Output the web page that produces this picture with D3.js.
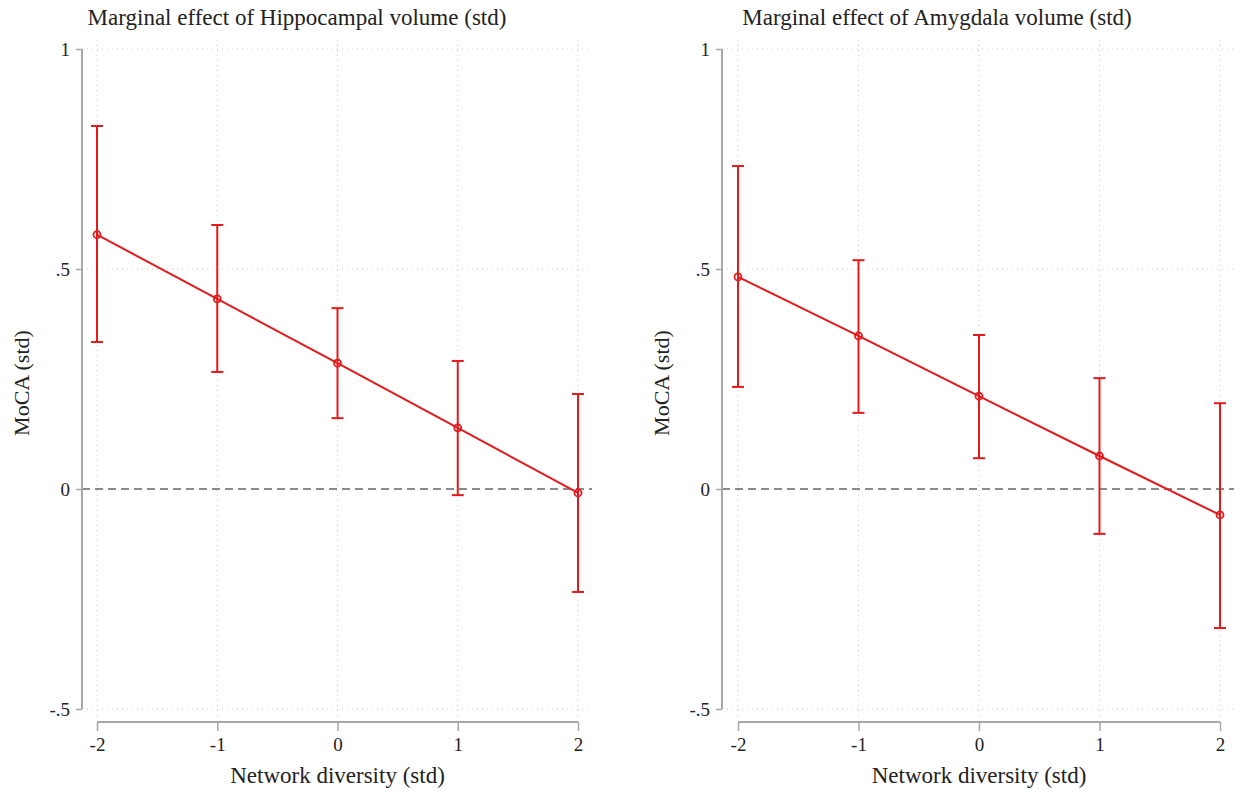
<!DOCTYPE html>
<html>
<head>
<meta charset="utf-8">
<script src="https://cdn.jsdelivr.net/npm/d3@7"></script>
<style>
  body { margin: 0; background: #fff; }
  text { font-family: "Liberation Serif", "DejaVu Serif", serif; fill: #222; }
</style>
</head>
<body>
<div id="chart"></div>
<script>
// x values (network diversity, std)
var xVals = [-2, -1, 0, 1, 2];
var xTicks = [-2, -1, 0, 1, 2];
var yTicks = [-0.5, 0, 0.5, 1];

// Hippocampal volume marginal effects
var hipEst = [0.578, 0.432, 0.286, 0.139, -0.009];
var hipLo  = [0.334, 0.266, 0.161, -0.014, -0.234];
var hipHi  = [0.825, 0.600, 0.411, 0.291, 0.216];

// Amygdala volume marginal effects
var amyEst = [0.482, 0.348, 0.211, 0.075, -0.059];
var amyLo  = [0.232, 0.173, 0.070, -0.102, -0.316];
var amyHi  = [0.734, 0.520, 0.350, 0.252, 0.195];

var RED = "#e41a1c";

var svg = d3.select("#chart").append("svg")
    .attr("width", 1245)
    .attr("height", 796);

function yFmt(d) {
    if (d == 0) return "0";
    if (d == 1) return "1";
    return d < 0 ? "-." + String(Math.abs(d)).split(".")[1] : "." + String(d).split(".")[1];
}

function drawPanel(left, xStart, xEnd, title, est, lo, hi) {
    var x = d3.scaleLinear().domain([-2, 2]).range([xStart, xEnd]);
    var y = d3.scaleLinear().domain([-0.5, 1]).range([709, 49]);
    var g = svg.append("g");
    var gridRight = xEnd + 14;

    // grid
    g.selectAll(".hgrid").data(yTicks.filter(function(d) { return d != 0; }))
        .enter().append("line")
        .attr("x1", left).attr("x2", gridRight)
        .attr("y1", function(d) { return y(d); })
        .attr("y2", function(d) { return y(d); })
        .attr("stroke", "#c8c8c8").attr("stroke-width", 1)
        .attr("stroke-dasharray", "1,4");

    g.selectAll(".vgrid").data(xTicks)
        .enter().append("line")
        .attr("x1", function(d) { return x(d); })
        .attr("x2", function(d) { return x(d); })
        .attr("y1", 40).attr("y2", 716)
        .attr("stroke", "#c8c8c8").attr("stroke-width", 1)
        .attr("stroke-dasharray", "1,4");

    // zero reference line
    g.append("line")
        .attr("x1", left).attr("x2", gridRight)
        .attr("y1", y(0)).attr("y2", y(0))
        .attr("stroke", "#8a8a8a").attr("stroke-width", 2)
        .attr("stroke-dasharray", "8,5");

    // y axis
    var yAxis = d3.axisLeft(y).tickValues(yTicks).tickFormat(yFmt).tickSize(6).tickPadding(6);
    var ya = g.append("g").attr("transform", "translate(" + left + ",0)").call(yAxis);
    ya.select(".domain").attr("stroke", "#a8a8a8").attr("stroke-width", 2)
        .attr("d", "M0," + y(1) + "V" + y(-0.5));
    ya.selectAll(".tick line").attr("stroke", "#a8a8a8").attr("stroke-width", 1.5);
    ya.selectAll(".tick text").style("font-size", "19px").style("fill", "#222");

    // x axis
    var xAxis = d3.axisBottom(x).tickValues(xTicks).tickFormat(d3.format("d")).tickSize(9).tickPadding(7);
    var xa = g.append("g").attr("transform", "translate(0,722)").call(xAxis);
    xa.select(".domain").attr("stroke", "#a8a8a8").attr("stroke-width", 2)
        .attr("d", "M" + xStart + ",0H" + xEnd);
    xa.selectAll(".tick line").attr("stroke", "#a8a8a8").attr("stroke-width", 1.5);
    xa.selectAll(".tick text").style("font-size", "19px").style("fill", "#222")
        .text(function(d) { return d < 0 ? "-" + Math.abs(d) : d; });

    // titles
    g.append("text")
        .attr("x", left + 215).attr("y", 25)
        .attr("text-anchor", "middle")
        .style("font-size", "23px")
        .text(title);

    g.append("text")
        .attr("x", (xStart + xEnd) / 2).attr("y", 783)
        .attr("text-anchor", "middle")
        .style("font-size", "23px")
        .text("Network diversity (std)");

    g.append("text")
        .attr("transform", "translate(" + (left - 53) + "," + (y(0.25) + 4) + ") rotate(-90)")
        .attr("text-anchor", "middle")
        .style("font-size", "22px")
        .text("MoCA (std)");

    var rows = xVals.map(function(v, i) {
        return {x: v, est: est[i], lo: lo[i], hi: hi[i]};
    });

    // error bars
    var bars = g.selectAll(".ci").data(rows).enter().append("g");
    bars.append("line")
        .attr("x1", function(d) { return x(d.x); })
        .attr("x2", function(d) { return x(d.x); })
        .attr("y1", function(d) { return y(d.lo); })
        .attr("y2", function(d) { return y(d.hi); })
        .attr("stroke", RED).attr("stroke-width", 2);
    bars.append("line")
        .attr("x1", function(d) { return x(d.x) - 6; })
        .attr("x2", function(d) { return x(d.x) + 6; })
        .attr("y1", function(d) { return y(d.lo); })
        .attr("y2", function(d) { return y(d.lo); })
        .attr("stroke", RED).attr("stroke-width", 2);
    bars.append("line")
        .attr("x1", function(d) { return x(d.x) - 6; })
        .attr("x2", function(d) { return x(d.x) + 6; })
        .attr("y1", function(d) { return y(d.hi); })
        .attr("y2", function(d) { return y(d.hi); })
        .attr("stroke", RED).attr("stroke-width", 2);

    // estimate line
    var line = d3.line()
        .x(function(d) { return x(d.x); })
        .y(function(d) { return y(d.est); });
    g.append("path")
        .datum(rows)
        .attr("d", line)
        .attr("fill", "none")
        .attr("stroke", RED).attr("stroke-width", 2);

    g.selectAll(".pt").data(rows).enter().append("circle")
        .attr("cx", function(d) { return x(d.x); })
        .attr("cy", function(d) { return y(d.est); })
        .attr("r", 3.5)
        .attr("fill", "none")
        .attr("stroke", RED).attr("stroke-width", 1.8);
}

drawPanel(82, 97, 578, "Marginal effect of Hippocampal volume (std)", hipEst, hipLo, hipHi);
drawPanel(722, 738, 1220, "Marginal effect of Amygdala volume (std)", amyEst, amyLo, amyHi);
</script>
</body>
</html>
